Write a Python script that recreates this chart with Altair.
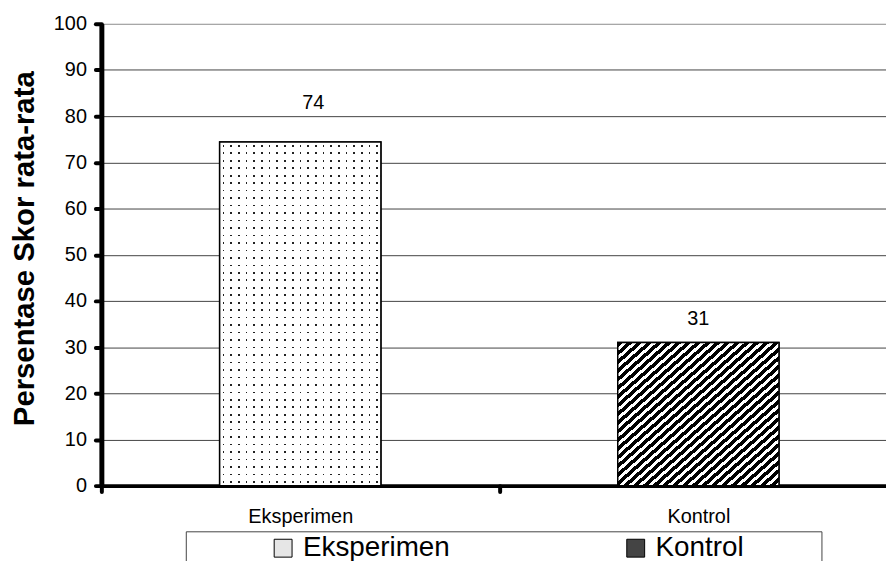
import altair as alt
import pandas as pd

# ---- data ----
groups = ["Eksperimen", "Kontrol"]
values = [74.4, 31.0]
y_ticks = [0, 10, 20, 30, 40, 50, 60, 70, 80, 90, 100]

df = pd.DataFrame({"group": groups, "value": values})

FONT = "Liberation Sans"


def periodic_stops(n, on_start, on_end, on_color, off_color):
    stops = []
    for i in range(n):
        a = i / n
        s = (i + on_start) / n
        e = (i + on_end) / n
        b = (i + 1) / n
        for off, col in [(a, off_color), (s, off_color), (s, on_color),
                         (e, on_color), (e, off_color), (b, off_color)]:
            stops.append(alt.GradientStop(offset=round(min(off, 1.0), 5), color=col))
    return stops


# diagonal hatch for "Kontrol"
hatch = alt.LinearGradient(gradient="linear", x1=0, y1=0, x2=1, y2=1,
                           stops=periodic_stops(33, 0.0, 0.55, "#000000", "#ffffff"))
# dotted pattern for "Eksperimen": vertical dark lines masked by horizontal white bands
dots_v = alt.LinearGradient(gradient="linear", x1=0, y1=0, x2=1, y2=0,
                            stops=periodic_stops(21, 0.4, 0.62, "#222222", "#ffffff"))
dots_h = alt.LinearGradient(gradient="linear", x1=0, y1=0, x2=0, y2=1,
                            stops=periodic_stops(46, 0.4, 0.62, "rgba(255,255,255,0)", "#ffffff"))

W = 790
H = 465
HALF_STEP = 200.5

x_enc = alt.X("group:N", sort=groups,
              scale=alt.Scale(paddingInner=0.595, paddingOuter=0.283, align=0.525),
              axis=alt.Axis(title=None, labelAngle=0, labelFontSize=20, labelColor="black",
                            domainColor="black", domainWidth=4,
                            tickOffset=-HALF_STEP, labelOffset=HALF_STEP,
                            tickColor="black", tickWidth=4, tickSize=6, tickCap="round",
                            labelPadding=15, grid=False))
y_enc = alt.Y("value:Q", scale=alt.Scale(domain=[0, 100]),
              axis=alt.Axis(values=y_ticks, title="Persentase Skor rata-rata",
                            titleFontSize=29.5, titleFontWeight="bold", titleColor="black",
                            titlePadding=14, titleY=226, labelFontSize=20, labelColor="black",
                            domainColor="black", domainWidth=5, tickColor="black",
                            tickWidth=4, tickSize=6, tickCap="round", labelPadding=9,
                            grid=True, gridWidth=1,
                            gridColor=alt.condition("datum.value == 100",
                                                    alt.value("#8c8c8c"),
                                                    alt.value("#444444"))))

base = alt.Chart(df)

legend = alt.Legend(title=".", titleOrient="right", titlePadding=72, titleOpacity=0,
                    titleFontSize=8,
                    orient="none", legendX=85, legendY=511,
                    direction="horizontal", columns=2, labelFontSize=28, labelFont=FONT,
                    labelColor="black", symbolType="square", symbolSize=324,
                    symbolStrokeColor="black", symbolStrokeWidth=1, symbolOpacity=1,
                    strokeColor="#444444", padding=3, symbolOffset=81, columnPadding=92,
                    labelOffset=6)

bars = base.mark_bar(stroke="black", strokeWidth=1.5).encode(
    x=x_enc, y=y_enc,
    fill=alt.Fill("group:N", sort=groups,
                  scale=alt.Scale(domain=groups, range=["#e6e6e6", "#444444"]),
                  legend=legend))

kontrol = base.transform_filter(alt.datum.group == "Kontrol").mark_bar(
    fill=hatch, stroke="black", strokeWidth=1.5).encode(x=x_enc, y=y_enc)
eks_v = base.transform_filter(alt.datum.group == "Eksperimen").mark_bar(
    fill=dots_v, strokeWidth=0).encode(x=x_enc, y=y_enc)
eks_h = base.transform_filter(alt.datum.group == "Eksperimen").mark_bar(
    fill=dots_h, stroke="black", strokeWidth=1.5).encode(x=x_enc, y=y_enc)

lab_e = base.transform_filter(alt.datum.group == "Eksperimen").mark_text(
    font=FONT, fontSize=20, color="black", baseline="alphabetic", dy=-33, dx=13).encode(
    x=x_enc, y=y_enc, text=alt.Text("value:Q", format=".0f"))
lab_k = base.transform_filter(alt.datum.group == "Kontrol").mark_text(
    font=FONT, fontSize=20, color="black", baseline="alphabetic", dy=-18).encode(
    x=x_enc, y=y_enc, text=alt.Text("value:Q", format=".0f"))

chart = alt.layer(bars, kontrol, eks_v, eks_h, lab_e, lab_k).properties(
    width=W, height=H,
    autosize=alt.AutoSizeParams(type="none"),
    padding={"left": 94, "top": 14, "right": 0, "bottom": 74},
    background="white",
).configure_view(stroke=None).configure_axis(
    labelFont=FONT, titleFont=FONT)

chart.save("out.html", embed_options={"renderer": "svg", "actions": False})
